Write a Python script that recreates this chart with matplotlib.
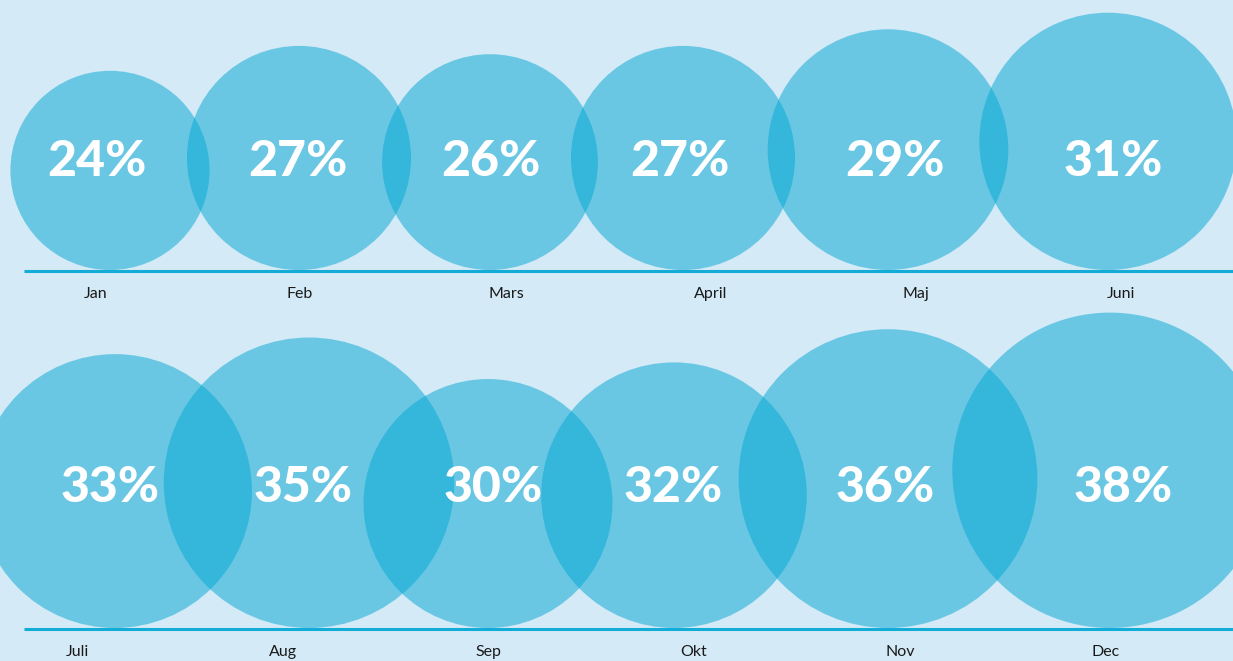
import matplotlib
matplotlib.use("Agg")
import matplotlib.pyplot as plt
from matplotlib.patches import Circle

# data
months_top = ["Jan", "Feb", "Mars", "April", "Maj", "Juni"]
values_top = [24, 27, 26, 27, 29, 31]
months_bottom = ["Juli", "Aug", "Sep", "Okt", "Nov", "Dec"]
values_bottom = [33, 35, 30, 32, 36, 38]

# layout (pixel space)
W, H = 1233, 661
bg = "#d4eaf6"
circle_col = "#02a6d4"
line_col = "#12acd6"
scale = 4.15  # radius px per percent

rows = [
    dict(months=months_top, values=values_top, base=270,
         cx=[110, 299, 490, 683, 888, 1108],
         tx=[97, 298, 491, 680, 895, 1113], ty=162,
         lx=[96, 300, 506, 711, 916, 1121], ly=294),
    dict(months=months_bottom, values=values_bottom, base=628,
         cx=[115, 309, 488, 674, 888, 1110],
         tx=[110, 303, 493, 673, 885, 1123], ty=488,
         lx=[77, 283, 488, 694, 900, 1106], ly=652),
]

fig = plt.figure(figsize=(W / 100, H / 100), dpi=100, facecolor=bg)
ax = fig.add_axes([0, 0, 1, 1])
ax.set_xlim(0, W)
ax.set_ylim(H, 0)
ax.set_aspect("equal")
ax.axis("off")
ax.set_facecolor(bg)

for row in rows:
    for m, v, cx, tx, lx in zip(row["months"], row["values"], row["cx"], row["tx"], row["lx"]):
        r = v * scale
        ax.add_patch(Circle((cx, row["base"] - r), r, facecolor=circle_col,
                            edgecolor="none", alpha=0.5, zorder=1))
        ax.text(tx, row["ty"], f"{v}%", color="white", fontsize=36,
                family=["Lato", "DejaVu Sans"], fontweight="black",
                ha="center", va="center", zorder=3)
        ax.text(lx, row["ly"], m, color="#1a1a1a", fontsize=11.5,
                family=["Lato", "DejaVu Sans"], ha="center", va="center", zorder=3)
    ax.plot([24, W], [row["base"] + 1, row["base"] + 1], color=line_col, lw=2.2,
            solid_capstyle="butt", zorder=2)

fig.savefig("out.png", dpi=100, facecolor=bg)
